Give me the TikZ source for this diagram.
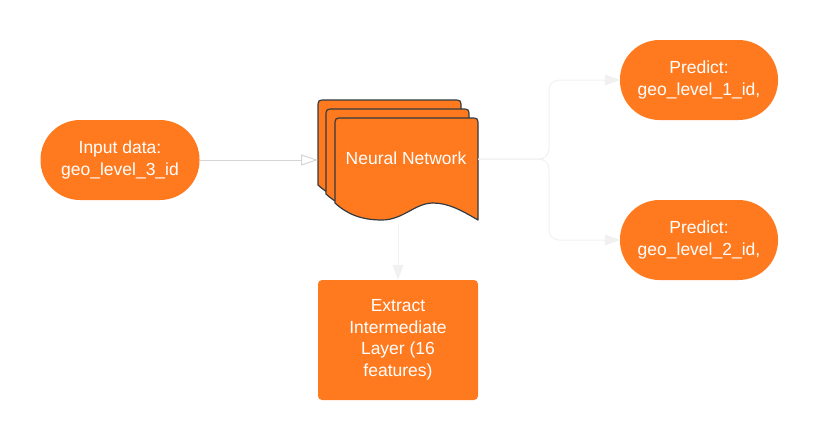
\documentclass[tikz,border=0pt]{standalone}
\usepackage{fontspec}
\setmainfont{Liberation Sans}
\usetikzlibrary{arrows.meta}
\definecolor{orng}{HTML}{FF7A1F}
\definecolor{conn}{HTML}{F1F1F1}
\definecolor{tipopen}{HTML}{D4D4D4}
\definecolor{edgec}{HTML}{333A40}
\begin{document}
\begin{tikzpicture}[x=1pt,y=-1pt,
  lbl/.style={text=white, align=center, font=\fontsize{17.5}{21.5}\selectfont, inner sep=0pt},
  pill/.style={lbl, fill=orng, rounded corners=39.5pt, minimum width=159pt, minimum height=80pt},
  box/.style={lbl, fill=orng, rounded corners=4pt, minimum width=160pt, minimum height=120pt},
  sheet/.style={fill=orng, draw=edgec, line width=1.2pt, line join=round},
  link/.style={draw=conn, line width=1pt},
  filltip/.style={-{Triangle[length=15pt,width=11pt]}, conn},
  opentip/.style={-{Triangle[open,length=17pt,width=11pt]}}
]
\useasboundingbox (0,0) rectangle (819,440);

% nodes
\node[pill] (input) at (120,160) {Input data:\\geo\_level\_3\_id};
\node[pill, minimum width=158pt] (p1) at (699,80) {Predict:\\geo\_level\_1\_id,};
\node[pill, minimum width=158pt] (p2) at (699,240) {Predict:\\geo\_level\_2\_id,};
\node[box] (extract) at (398,340) {Extract\\Intermediate\\Layer (16\\features)};

% stacked document sheets
\foreach \ox/\oy in {318/100, 326/109, 335/118}{
  \draw[sheet] (\ox,\oy+85) -- (\ox,\oy+8) .. controls (\ox,\oy) .. (\ox+8,\oy)
    -- (\ox+135,\oy) .. controls (\ox+143,\oy) .. (\ox+143,\oy+8)
    -- (\ox+143,\oy+102)
    .. controls (\ox+126,\oy+92) and (\ox+113,\oy+85) .. (\ox+98,\oy+85)
    .. controls (\ox+80,\oy+85) and (\ox+68,\oy+102) .. (\ox+47,\oy+102)
    .. controls (\ox+26,\oy+102) and (\ox+12,\oy+96) .. (\ox,\oy+85) -- cycle;
}
\node[lbl] (nn) at (406,158) {Neural Network};

\coordinate (nnin) at (318,160);
\coordinate (nnout) at (478,159);
\coordinate (split) at (549,159);
\coordinate (nnbot) at (398,224);

% connectors
\draw[link, opentip, tipopen] (input.east) -- (nnin);
\draw[link, rounded corners=10pt] (nnout) -- (split) |- (p1.west);
\draw[link, rounded corners=10pt] (nnout) -- (split) |- (p2.west);
\draw[link, filltip] ([xshift=-16pt]p1.west) -- (p1.west);
\draw[link, filltip] ([xshift=-16pt]p2.west) -- (p2.west);
\draw[link, filltip] (nnbot) -- (extract.north);
\end{tikzpicture}
\end{document}
